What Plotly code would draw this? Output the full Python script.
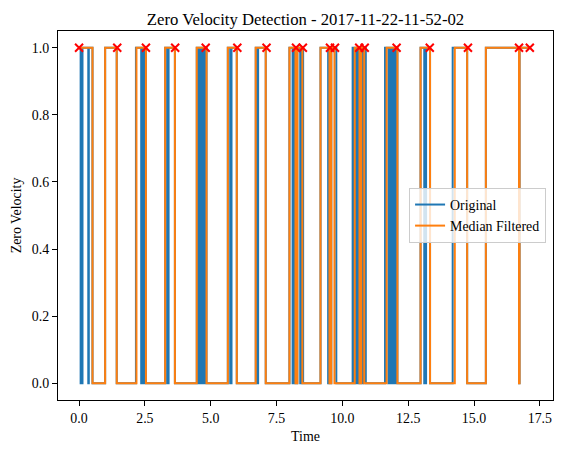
import plotly.graph_objects as go

# ---- data ----
# Median filtered zero-velocity signal: transition times and values (step, hold until next time)
filt_t = [0.05, 0.51, 0.99, 1.43, 2.18, 2.54, 3.27, 3.64, 4.47, 4.84, 5.65, 5.99,
          6.71, 7.09, 7.99, 8.22, 8.29, 8.48, 9.17, 9.51, 9.58, 9.70, 10.47, 10.65,
          10.72, 10.83, 11.68, 12.09, 12.97, 13.33, 14.27, 14.74, 15.45, 16.71, 16.73, 17.15]
filt_v = [1, 0, 1, 0, 1, 0, 1, 0, 1, 0, 1, 0,
          1, 0, 1, 0, 1, 0, 1, 0, 1, 0, 1, 0,
          1, 0, 1, 0, 1, 0, 1, 0, 1, 0, 1, 1]

# Original (raw) zero-velocity signal
orig_t = [0.05, 0.06, 0.08, 0.11, 0.13, 0.35, 0.37, 0.51, 0.99, 1.43, 2.16, 2.36, 2.40,
          2.45, 2.49, 2.54, 3.27, 3.35, 3.40, 3.64, 4.47, 4.54, 4.58, 4.62, 4.66,
          4.70, 4.74, 4.76, 4.78, 4.84, 5.65, 5.74, 5.79, 5.99, 6.71, 6.78, 6.80,
          7.09, 7.99, 8.11, 8.16, 8.22, 8.29, 8.40, 8.44, 8.51, 9.17, 9.46, 9.48,
          9.51, 9.58, 9.77, 10.39, 10.43, 10.47, 10.54, 10.58, 10.65, 10.72, 10.78,
          10.80, 10.89, 11.62, 11.75, 11.78, 11.82, 11.85, 11.90, 11.93, 11.97,
          12.00, 12.04, 12.06, 12.09, 12.97, 13.11, 13.13, 13.16, 13.18, 13.33,
          14.19, 14.74, 15.45, 16.71, 16.73, 17.15]
orig_v = [1, 0, 1, 0, 1, 0, 1, 0, 1, 0, 1, 0, 1,
          0, 1, 0, 1, 0, 1, 0, 1, 0, 1, 0, 1,
          0, 1, 0, 1, 0, 1, 0, 1, 0, 1, 0, 1,
          0, 1, 0, 1, 0, 1, 0, 1, 0, 1, 0, 1,
          0, 1, 0, 1, 0, 1, 0, 1, 0, 1, 0,
          1, 0, 1, 0, 1, 0, 1, 0, 1, 0,
          1, 0, 1, 0, 1, 0, 1, 0, 1, 0,
          1, 0, 1, 0, 1, 1]

# Detected markers (red x at value 1)
mark_t = [0.0, 1.45, 2.54, 3.65, 4.81, 6.01, 7.12, 8.24, 8.50, 9.53, 9.72,
          10.64, 10.85, 12.06, 13.32, 14.77, 16.71, 17.12]
mark_v = [1] * len(mark_t)

x_ticks = [0.0, 2.5, 5.0, 7.5, 10.0, 12.5, 15.0, 17.5]
y_ticks = [0.0, 0.2, 0.4, 0.6, 0.8, 1.0]

FONT = "Liberation Serif, Times New Roman, serif"
FS = 13.9

fig = go.Figure()
fig.add_trace(go.Scatter(x=orig_t, y=orig_v, mode="lines", name="Original",
                         line=dict(color="#1f77b4", width=2, shape="hv")))
fig.add_trace(go.Scatter(x=filt_t, y=filt_v, mode="lines", name="Median Filtered",
                         line=dict(color="#ff7f0e", width=2, shape="hv")))
fig.add_trace(go.Scatter(x=mark_t, y=mark_v, mode="markers", showlegend=False,
                         marker=dict(symbol="x-thin", size=8, color="red",
                                     line=dict(width=2, color="red"))))

axis_common = dict(showline=True, mirror=True, linecolor="black", linewidth=1.1,
                   ticks="outside", ticklen=5, tickwidth=1.1, tickcolor="black",
                   showgrid=False, zeroline=False,
                   tickfont=dict(family=FONT, size=FS, color="black"))

fig.update_layout(
    width=562, height=453,
    margin=dict(l=58, r=9, t=31, b=53),
    paper_bgcolor="white", plot_bgcolor="white",
    font=dict(family=FONT, size=FS, color="black"),
    title=dict(text="Zero Velocity Detection - 2017-11-22-11-52-02",
               x=0.5, xref="paper", xanchor="center",
               y=1, yref="paper", yanchor="bottom", pad=dict(b=6),
               font=dict(family=FONT, size=16.7, color="black")),
    xaxis=dict(range=[-0.80, 18.0], tickvals=x_ticks, tickformat=".1f",
               title=dict(text="Time", standoff=6, font=dict(family=FONT, size=FS)),
               **axis_common),
    yaxis=dict(range=[-0.05, 1.05], tickvals=y_ticks, tickformat=".1f",
               title=dict(text="Zero Velocity", standoff=6, font=dict(family=FONT, size=FS)),
               **axis_common),
    legend=dict(x=0.986, xanchor="right", y=0.5, yanchor="middle",
                bgcolor="rgba(255,255,255,0.8)", bordercolor="#cccccc", borderwidth=1,
                font=dict(family=FONT, size=FS, color="black"),
                tracegroupgap=0, itemwidth=30),
    showlegend=True,
)

fig.write_html("out.html", config={"displayModeBar": False},
               post_script="document.body.style.margin='0px';")
